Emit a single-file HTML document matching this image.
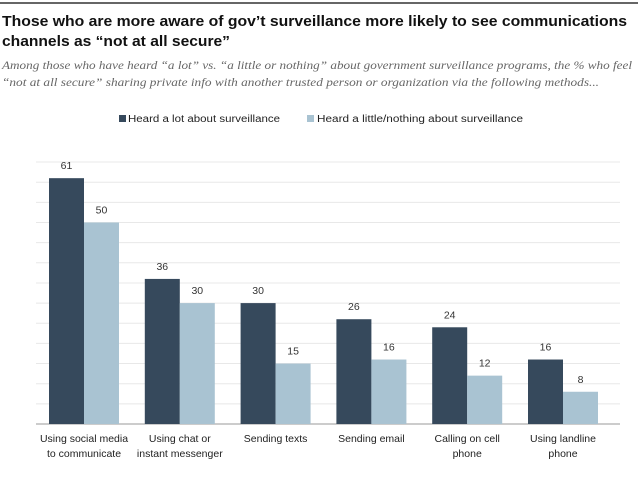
<!DOCTYPE html>
<html><head><meta charset="utf-8"><style>
body{margin:0;background:#fff;width:638px;height:479px;overflow:hidden;font-family:"Liberation Sans",sans-serif}
</style></head><body>
<svg width="638" height="479">
<line x1="0" y1="3" x2="638" y2="3" stroke="#333" stroke-width="1.5"/>
<text x="2" y="26" font-size="15" font-weight="bold" fill="#111" textLength="625" lengthAdjust="spacingAndGlyphs">Those who are more aware of gov’t surveillance more likely to see communications</text>
<text x="2" y="46" font-size="15" font-weight="bold" fill="#111" textLength="228" lengthAdjust="spacingAndGlyphs">channels as “not at all secure”</text>
<text x="2" y="69" font-size="11.5" font-style="italic" fill="#666" font-family="Liberation Serif,serif" textLength="630" lengthAdjust="spacingAndGlyphs">Among those who have heard “a lot” vs. “a little or nothing” about government surveillance programs, the % who feel</text>
<text x="2" y="86" font-size="11.5" font-style="italic" fill="#666" font-family="Liberation Serif,serif" textLength="597" lengthAdjust="spacingAndGlyphs">“not at all secure” sharing private info with another trusted person or organization via the following methods...</text>
<g>
<rect x="119" y="115" width="7" height="7" fill="#36495c"/>
<text x="128" y="122" font-size="10" fill="#222" textLength="152" lengthAdjust="spacingAndGlyphs">Heard a lot about surveillance</text>
<rect x="307" y="115" width="7" height="7" fill="#a9c3d2"/>
<text x="317" y="122" font-size="10" fill="#222" textLength="206" lengthAdjust="spacingAndGlyphs">Heard a little/nothing about surveillance</text>
</g>
<g id="grid"></g><g id="bars"></g>
</svg>
<script>
const categories=[["Using social media","to communicate"],["Using chat or","instant messenger"],["Sending texts",""],["Sending email",""],["Calling on cell","phone"],["Using landline","phone"]];
const aLot=[61,36,30,26,24,16];
const little=[50,30,15,16,12,8];
const gridTicks=[5,10,15,20,25,30,35,40,45,50,55,60,65];
const NS="http://www.w3.org/2000/svg";
const base=424,k=4.03;
const y=v=>base-v*k;
const grid=document.getElementById('grid'),bars=document.getElementById('bars');
function mk(tag,attrs,parent){const e=document.createElementNS(NS,tag);for(const a in attrs)e.setAttribute(a,attrs[a]);parent.appendChild(e);return e;}
gridTicks.forEach(t=>{
 const l=mk('line',{x1:36,x2:620,y1:y(t),y2:y(t),stroke:'#e8e8e8','stroke-width':1},grid);
 
 
});
const ax=mk('line',{x1:36,x2:620,y1:base,y2:base,stroke:'#999','stroke-width':1},grid);


categories.forEach((c,i)=>{
 const x0=49+i*95.8,w=35;
 [[aLot[i],'#36495c',x0],[little[i],'#a9c3d2',x0+w]].forEach(([v,col,x],j)=>{
  const r=mk('rect',{x:x,y:y(v),width:w,height:v*k,fill:col},bars);
  
  
  const t=mk('text',{x:x+w/2,y:y(v)-9,'text-anchor':'middle','font-size':10.5,fill:'#333'},bars);
  t.textContent=v;
  
  
 });
 c.forEach((s,li)=>{
  if(!s)return;
  const t=mk('text',{x:x0+w,y:442+li*15,'text-anchor':'middle','font-size':10.5,fill:'#222'},bars);
  t.textContent=s;
  
  
 });
});
</script>
</body></html>
